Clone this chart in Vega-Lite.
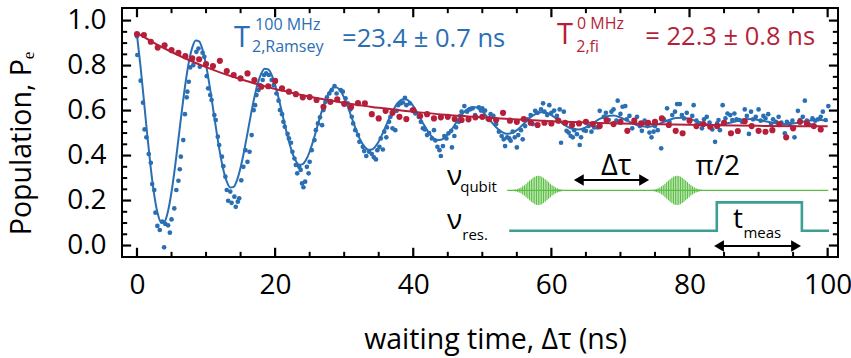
{
"$schema":"https://vega.github.io/schema/vega-lite/v6.json",
"width":716,"height":249,
"autosize":{"type":"none"},
"padding":{"left":122,"top":8,"right":13,"bottom":101},
"background":"white",
"config":{"font":"Open Sans","view":{"stroke":"#000","strokeWidth":2},
"axis":{"grid":false,"domain":false,"labelColor":"#000","titleColor":"#000","titleFontWeight":"normal","labelFont":"Open Sans","titleFont":"Open Sans","labelFlush":false}},
"datasets":{
"one":[{"k":1}],
"xmaj":[{"p":0},{"p":20},{"p":40},{"p":60},{"p":80},{"p":100}],
"xmin":[{"p":5},{"p":10},{"p":15},{"p":25},{"p":30},{"p":35},{"p":45},{"p":50},{"p":55},{"p":65},{"p":70},{"p":75},{"p":85},{"p":90},{"p":95}],
"ymaj":[{"p":0},{"p":0.2},{"p":0.4},{"p":0.6},{"p":0.8},{"p":1.0}],
"ymin":[{"p":0.05},{"p":0.1},{"p":0.15},{"p":0.25},{"p":0.3},{"p":0.35},{"p":0.45},{"p":0.5},{"p":0.55},{"p":0.65},{"p":0.7},{"p":0.75},{"p":0.85},{"p":0.9},{"p":0.95}],
"blue":[{"t":0,"v":0.93},{"t":0.05,"v":0.847},{"t":0.53,"v":0.733},{"t":0.87,"v":0.635},{"t":1.1,"v":0.516},{"t":1.36,"v":0.481},{"t":1.7,"v":0.407},{"t":2.0,"v":0.368},{"t":2.2,"v":0.273},{"t":2.5,"v":0.247},{"t":2.67,"v":0.146},{"t":2.95,"v":0.087},{"t":3.3,"v":0.069},{"t":3.64,"v":0.106},{"t":3.93,"v":-0.008},{"t":4.1,"v":0.096},{"t":4.5,"v":0.09},{"t":4.76,"v":0.057},{"t":5.0,"v":0.116},{"t":5.4,"v":0.165},{"t":5.7,"v":0.247},{"t":6.0,"v":0.288},{"t":6.2,"v":0.339},{"t":6.35,"v":0.395},{"t":6.7,"v":0.469},{"t":6.94,"v":0.584},{"t":7.2,"v":0.659},{"t":7.3,"v":0.684},{"t":7.5,"v":0.728},{"t":7.7,"v":0.792},{"t":8.15,"v":0.802},{"t":8.6,"v":0.861},{"t":8.9,"v":0.876},{"t":9.1,"v":0.795},{"t":9.5,"v":0.857},{"t":9.75,"v":0.839},{"t":10.1,"v":0.753},{"t":10.3,"v":0.699},{"t":10.6,"v":0.669},{"t":10.8,"v":0.647},{"t":11.2,"v":0.58},{"t":11.4,"v":0.558},{"t":11.7,"v":0.484},{"t":11.9,"v":0.447},{"t":12.3,"v":0.395},{"t":12.5,"v":0.353},{"t":12.8,"v":0.306},{"t":13.0,"v":0.247},{"t":13.2,"v":0.199},{"t":13.5,"v":0.24},{"t":13.7,"v":0.19},{"t":14.1,"v":0.217},{"t":14.3,"v":0.172},{"t":14.6,"v":0.195},{"t":14.8,"v":0.21},{"t":15.1,"v":0.29},{"t":15.4,"v":0.35},{"t":15.7,"v":0.424},{"t":16.0,"v":0.372},{"t":16.3,"v":0.417},{"t":16.6,"v":0.491},{"t":16.9,"v":0.602},{"t":17.1,"v":0.624},{"t":17.3,"v":0.669},{"t":17.6,"v":0.691},{"t":17.8,"v":0.713},{"t":18.2,"v":0.736},{"t":18.4,"v":0.758},{"t":18.7,"v":0.765},{"t":19.1,"v":0.758},{"t":19.5,"v":0.736},{"t":19.8,"v":0.713},{"t":20.2,"v":0.676},{"t":20.5,"v":0.644},{"t":20.7,"v":0.602},{"t":21.0,"v":0.584},{"t":21.2,"v":0.55},{"t":21.4,"v":0.528},{"t":21.8,"v":0.496},{"t":22.0,"v":0.476},{"t":22.3,"v":0.457},{"t":22.5,"v":0.417},{"t":22.8,"v":0.387},{"t":23.0,"v":0.358},{"t":23.2,"v":0.321},{"t":23.5,"v":0.35},{"t":23.7,"v":0.336},{"t":23.9,"v":0.276},{"t":24.1,"v":0.259},{"t":24.35,"v":0.284},{"t":24.6,"v":0.35},{"t":24.85,"v":0.321},{"t":25.0,"v":0.372},{"t":25.3,"v":0.424},{"t":25.7,"v":0.469},{"t":25.9,"v":0.513},{"t":26.2,"v":0.543},{"t":26.5,"v":0.57},{"t":26.8,"v":0.535},{"t":27.0,"v":0.602},{"t":27.3,"v":0.639},{"t":27.5,"v":0.659},{"t":27.85,"v":0.676},{"t":28.2,"v":0.691},{"t":28.6,"v":0.709},{"t":28.9,"v":0.676},{"t":29.5,"v":0.691},{"t":29.8,"v":0.684},{"t":30.2,"v":0.654},{"t":30.5,"v":0.632},{"t":30.9,"v":0.605},{"t":31.1,"v":0.572},{"t":31.3,"v":0.543},{"t":31.6,"v":0.513},{"t":32.0,"v":0.491},{"t":32.2,"v":0.461},{"t":32.7,"v":0.439},{"t":32.9,"v":0.42},{"t":33.2,"v":0.398},{"t":33.6,"v":0.417},{"t":34.0,"v":0.407},{"t":34.3,"v":0.392},{"t":34.6,"v":0.383},{"t":34.8,"v":0.424},{"t":35.1,"v":0.439},{"t":35.3,"v":0.476},{"t":35.6,"v":0.427},{"t":35.8,"v":0.506},{"t":36.1,"v":0.481},{"t":36.2,"v":0.525},{"t":36.5,"v":0.55},{"t":36.7,"v":0.572},{"t":37.0,"v":0.521},{"t":37.4,"v":0.513},{"t":37.6,"v":0.599},{"t":37.8,"v":0.624},{"t":38.2,"v":0.632},{"t":38.5,"v":0.636},{"t":38.8,"v":0.657},{"t":39.0,"v":0.624},{"t":39.5,"v":0.632},{"t":39.8,"v":0.602},{"t":40.3,"v":0.587},{"t":40.8,"v":0.572},{"t":41.1,"v":0.55},{"t":41.4,"v":0.521},{"t":41.7,"v":0.516},{"t":42.0,"v":0.491},{"t":42.3,"v":0.5},{"t":42.7,"v":0.476},{"t":43.0,"v":0.513},{"t":43.2,"v":0.467},{"t":43.5,"v":0.439},{"t":43.8,"v":0.424},{"t":44.0,"v":0.398},{"t":44.3,"v":0.442},{"t":44.5,"v":0.487},{"t":44.8,"v":0.476},{"t":45.1,"v":0.499},{"t":45.5,"v":0.51},{"t":45.6,"v":0.436},{"t":45.95,"v":0.487},{"t":46.2,"v":0.525},{"t":46.6,"v":0.55},{"t":46.8,"v":0.576},{"t":47.0,"v":0.595},{"t":47.4,"v":0.62},{"t":47.8,"v":0.595},{"t":48.2,"v":0.605},{"t":48.6,"v":0.61},{"t":48.95,"v":0.58},{"t":49.5,"v":0.614},{"t":49.8,"v":0.6},{"t":50.0,"v":0.61},{"t":50.4,"v":0.6},{"t":50.8,"v":0.561},{"t":51.2,"v":0.584},{"t":51.6,"v":0.576},{"t":52.0,"v":0.54},{"t":52.4,"v":0.506},{"t":52.8,"v":0.487},{"t":53.1,"v":0.472},{"t":53.3,"v":0.442},{"t":53.6,"v":0.481},{"t":53.9,"v":0.476},{"t":54.1,"v":0.466},{"t":54.4,"v":0.506},{"t":54.7,"v":0.481},{"t":55.0,"v":0.436},{"t":55.2,"v":0.491},{"t":55.6,"v":0.513},{"t":55.85,"v":0.472},{"t":56.2,"v":0.531},{"t":56.6,"v":0.561},{"t":57.0,"v":0.58},{"t":57.3,"v":0.54},{"t":57.65,"v":0.599},{"t":58.0,"v":0.59},{"t":58.5,"v":0.605},{"t":58.8,"v":0.632},{"t":59.0,"v":0.595},{"t":59.4,"v":0.58},{"t":59.7,"v":0.624},{"t":60.0,"v":0.59},{"t":60.4,"v":0.6},{"t":60.8,"v":0.576},{"t":61.2,"v":0.605},{"t":61.4,"v":0.457},{"t":61.8,"v":0.595},{"t":62.2,"v":0.51},{"t":62.5,"v":0.502},{"t":62.8,"v":0.487},{"t":63.1,"v":0.481},{"t":63.3,"v":0.513},{"t":63.7,"v":0.495},{"t":64.1,"v":0.447},{"t":64.3,"v":0.481},{"t":64.7,"v":0.513},{"t":65.0,"v":0.51},{"t":65.4,"v":0.531},{"t":65.8,"v":0.506},{"t":66.2,"v":0.525},{"t":66.7,"v":0.525},{"t":67.0,"v":0.599},{"t":67.6,"v":0.572},{"t":67.9,"v":0.59},{"t":68.3,"v":0.558},{"t":68.7,"v":0.595},{"t":69.0,"v":0.605},{"t":69.4,"v":0.555},{"t":69.6,"v":0.644},{"t":70.0,"v":0.585},{"t":70.3,"v":0.617},{"t":70.7,"v":0.62},{"t":70.9,"v":0.561},{"t":71.3,"v":0.576},{"t":71.7,"v":0.521},{"t":72.1,"v":0.546},{"t":72.4,"v":0.572},{"t":72.8,"v":0.531},{"t":73.1,"v":0.51},{"t":73.5,"v":0.555},{"t":73.9,"v":0.531},{"t":74.2,"v":0.502},{"t":74.5,"v":0.481},{"t":74.8,"v":0.506},{"t":75.0,"v":0.531},{"t":75.4,"v":0.513},{"t":75.9,"v":0.432},{"t":76.3,"v":0.561},{"t":76.75,"v":0.61},{"t":77.1,"v":0.55},{"t":77.5,"v":0.58},{"t":77.9,"v":0.595},{"t":78.2,"v":0.629},{"t":78.6,"v":0.629},{"t":78.9,"v":0.58},{"t":79.2,"v":0.565},{"t":79.6,"v":0.59},{"t":80.0,"v":0.558},{"t":80.4,"v":0.576},{"t":80.6,"v":0.624},{"t":81.0,"v":0.555},{"t":81.4,"v":0.543},{"t":81.8,"v":0.521},{"t":82.1,"v":0.561},{"t":82.5,"v":0.572},{"t":82.9,"v":0.546},{"t":83.3,"v":0.516},{"t":83.7,"v":0.461},{"t":84.0,"v":0.543},{"t":84.2,"v":0.558},{"t":84.4,"v":0.513},{"t":84.8,"v":0.624},{"t":85.2,"v":0.565},{"t":85.5,"v":0.587},{"t":85.9,"v":0.58},{"t":86.2,"v":0.558},{"t":86.5,"v":0.587},{"t":86.8,"v":0.561},{"t":87.2,"v":0.558},{"t":87.6,"v":0.55},{"t":88.0,"v":0.605},{"t":88.3,"v":0.576},{"t":88.6,"v":0.496},{"t":88.9,"v":0.595},{"t":89.2,"v":0.561},{"t":89.6,"v":0.572},{"t":90.0,"v":0.605},{"t":90.3,"v":0.555},{"t":90.7,"v":0.576},{"t":91.0,"v":0.565},{"t":91.4,"v":0.584},{"t":91.8,"v":0.54},{"t":92.1,"v":0.561},{"t":92.5,"v":0.55},{"t":92.9,"v":0.572},{"t":93.3,"v":0.546},{"t":93.8,"v":0.499},{"t":94.1,"v":0.55},{"t":94.5,"v":0.54},{"t":94.9,"v":0.555},{"t":95.2,"v":0.481},{"t":95.7,"v":0.599},{"t":96.0,"v":0.558},{"t":96.4,"v":0.572},{"t":96.7,"v":0.644},{"t":97.0,"v":0.555},{"t":97.4,"v":0.536},{"t":97.8,"v":0.565},{"t":98.2,"v":0.555},{"t":98.6,"v":0.561},{"t":99.0,"v":0.572},{"t":99.3,"v":0.595},{"t":99.7,"v":0.558},{"t":100.1,"v":0.62}],
"red":[{"t":0,"v":0.94},{"t":1,"v":0.936},{"t":2,"v":0.906},{"t":3,"v":0.88},{"t":4,"v":0.89},{"t":5,"v":0.869},{"t":6,"v":0.857},{"t":7,"v":0.842},{"t":8,"v":0.832},{"t":9,"v":0.828},{"t":10,"v":0.807},{"t":11,"v":0.798},{"t":12,"v":0.821},{"t":13,"v":0.776},{"t":14,"v":0.758},{"t":15,"v":0.743},{"t":16,"v":0.765},{"t":17,"v":0.736},{"t":18,"v":0.706},{"t":19,"v":0.708},{"t":20,"v":0.732},{"t":21,"v":0.699},{"t":22,"v":0.684},{"t":23,"v":0.673},{"t":24,"v":0.659},{"t":25,"v":0.66},{"t":26,"v":0.647},{"t":27,"v":0.617},{"t":28,"v":0.639},{"t":29,"v":0.65},{"t":30,"v":0.63},{"t":31,"v":0.616},{"t":32,"v":0.633},{"t":33,"v":0.632},{"t":34,"v":0.584},{"t":35,"v":0.565},{"t":36,"v":0.599},{"t":37,"v":0.59},{"t":38,"v":0.572},{"t":39,"v":0.562},{"t":40,"v":0.602},{"t":41,"v":0.576},{"t":42,"v":0.584},{"t":43,"v":0.565},{"t":44,"v":0.57},{"t":45,"v":0.572},{"t":46,"v":0.562},{"t":47,"v":0.558},{"t":48,"v":0.561},{"t":49,"v":0.57},{"t":50,"v":0.572},{"t":51,"v":0.562},{"t":52,"v":0.558},{"t":53,"v":0.59},{"t":54,"v":0.555},{"t":55,"v":0.55},{"t":56,"v":0.562},{"t":57,"v":0.546},{"t":58,"v":0.536},{"t":59,"v":0.546},{"t":60,"v":0.543},{"t":61,"v":0.555},{"t":62,"v":0.546},{"t":63,"v":0.536},{"t":64,"v":0.543},{"t":65,"v":0.55},{"t":66,"v":0.54},{"t":67,"v":0.531},{"t":68,"v":0.558},{"t":69,"v":0.54},{"t":70,"v":0.55},{"t":71,"v":0.51},{"t":72,"v":0.555},{"t":73,"v":0.543},{"t":74,"v":0.546},{"t":75,"v":0.55},{"t":76,"v":0.565},{"t":77,"v":0.536},{"t":78,"v":0.51},{"t":79,"v":0.499},{"t":80,"v":0.555},{"t":81,"v":0.531},{"t":82,"v":0.54},{"t":83,"v":0.528},{"t":84,"v":0.531},{"t":85,"v":0.546},{"t":86,"v":0.499},{"t":87,"v":0.509},{"t":88,"v":0.553},{"t":89,"v":0.531},{"t":90,"v":0.51},{"t":91,"v":0.506},{"t":92,"v":0.513},{"t":93,"v":0.54},{"t":94,"v":0.481},{"t":95,"v":0.521},{"t":96,"v":0.55},{"t":97,"v":0.543},{"t":98,"v":0.531},{"t":99,"v":0.516}],
"bfit":[{"t":0,"v":0.936},{"t":0.5,"v":0.8},{"t":1,"v":0.645},{"t":1.5,"v":0.488},{"t":2,"v":0.343},{"t":2.5,"v":0.224},{"t":3,"v":0.142},{"t":3.5,"v":0.102},{"t":4,"v":0.107},{"t":4.5,"v":0.154},{"t":5,"v":0.238},{"t":5.5,"v":0.348},{"t":6,"v":0.473},{"t":6.5,"v":0.6},{"t":7,"v":0.717},{"t":7.5,"v":0.814},{"t":8,"v":0.88},{"t":8.5,"v":0.912},{"t":9,"v":0.908},{"t":9.5,"v":0.87},{"t":10,"v":0.802},{"t":10.5,"v":0.713},{"t":11,"v":0.612},{"t":11.5,"v":0.51},{"t":12,"v":0.415},{"t":12.5,"v":0.337},{"t":13,"v":0.284},{"t":13.5,"v":0.258},{"t":14,"v":0.261},{"t":14.5,"v":0.292},{"t":15,"v":0.347},{"t":15.5,"v":0.418},{"t":16,"v":0.5},{"t":16.5,"v":0.583},{"t":17,"v":0.659},{"t":17.5,"v":0.722},{"t":18,"v":0.765},{"t":18.5,"v":0.786},{"t":19,"v":0.783},{"t":19.5,"v":0.759},{"t":20,"v":0.714},{"t":20.5,"v":0.656},{"t":21,"v":0.59},{"t":21.5,"v":0.524},{"t":22,"v":0.462},{"t":22.5,"v":0.411},{"t":23,"v":0.376},{"t":23.5,"v":0.359},{"t":24,"v":0.362},{"t":24.5,"v":0.382},{"t":25,"v":0.417},{"t":25.5,"v":0.464},{"t":26,"v":0.517},{"t":26.5,"v":0.571},{"t":27,"v":0.621},{"t":27.5,"v":0.662},{"t":28,"v":0.69},{"t":28.5,"v":0.704},{"t":29,"v":0.702},{"t":29.5,"v":0.686},{"t":30,"v":0.657},{"t":30.5,"v":0.619},{"t":31,"v":0.576},{"t":31.5,"v":0.533},{"t":32,"v":0.492},{"t":32.5,"v":0.46},{"t":33,"v":0.437},{"t":33.5,"v":0.426},{"t":34,"v":0.427},{"t":34.5,"v":0.44},{"t":35,"v":0.463},{"t":35.5,"v":0.494},{"t":36,"v":0.529},{"t":36.5,"v":0.564},{"t":37,"v":0.596},{"t":37.5,"v":0.623},{"t":38,"v":0.641},{"t":38.5,"v":0.65},{"t":39,"v":0.649},{"t":39.5,"v":0.639},{"t":40,"v":0.62},{"t":40.5,"v":0.595},{"t":41,"v":0.567},{"t":41.5,"v":0.539},{"t":42,"v":0.513},{"t":42.5,"v":0.491},{"t":43,"v":0.476},{"t":43.5,"v":0.469},{"t":44,"v":0.47},{"t":44.5,"v":0.478},{"t":45,"v":0.494},{"t":45.5,"v":0.513},{"t":46,"v":0.536},{"t":46.5,"v":0.559},{"t":47,"v":0.58},{"t":47.5,"v":0.598},{"t":48,"v":0.61},{"t":48.5,"v":0.615},{"t":49,"v":0.615},{"t":49.5,"v":0.608},{"t":50,"v":0.596},{"t":50.5,"v":0.58},{"t":51,"v":0.561},{"t":51.5,"v":0.543},{"t":52,"v":0.526},{"t":52.5,"v":0.512},{"t":53,"v":0.502},{"t":53.5,"v":0.497},{"t":54,"v":0.498},{"t":54.5,"v":0.503},{"t":55,"v":0.513},{"t":55.5,"v":0.526},{"t":56,"v":0.541},{"t":56.5,"v":0.556},{"t":57,"v":0.57},{"t":57.5,"v":0.581},{"t":58,"v":0.589},{"t":58.5,"v":0.593},{"t":59,"v":0.592},{"t":59.5,"v":0.588},{"t":60,"v":0.58},{"t":61,"v":0.557},{"t":62,"v":0.534},{"t":63,"v":0.519},{"t":64,"v":0.516},{"t":65,"v":0.526},{"t":66,"v":0.544},{"t":67,"v":0.563},{"t":68,"v":0.575},{"t":69,"v":0.578},{"t":70,"v":0.569},{"t":71,"v":0.555},{"t":72,"v":0.54},{"t":73,"v":0.53},{"t":74,"v":0.528},{"t":75,"v":0.534},{"t":76,"v":0.546},{"t":77,"v":0.558},{"t":78,"v":0.567},{"t":79,"v":0.568},{"t":80,"v":0.563},{"t":81,"v":0.553},{"t":82,"v":0.543},{"t":83,"v":0.537},{"t":84,"v":0.536},{"t":85,"v":0.54},{"t":86,"v":0.547},{"t":87,"v":0.555},{"t":88,"v":0.561},{"t":89,"v":0.562},{"t":90,"v":0.558},{"t":91,"v":0.552},{"t":92,"v":0.546},{"t":93,"v":0.541},{"t":94,"v":0.54},{"t":95,"v":0.543},{"t":96,"v":0.548},{"t":97,"v":0.554},{"t":98,"v":0.557},{"t":99,"v":0.558},{"t":100,"v":0.555}],
"rfit":[{"t":0,"v":0.945},{"t":2,"v":0.909},{"t":4,"v":0.876},{"t":6,"v":0.846},{"t":8,"v":0.818},{"t":10,"v":0.793},{"t":12,"v":0.77},{"t":14,"v":0.749},{"t":16,"v":0.73},{"t":18,"v":0.712},{"t":20,"v":0.696},{"t":22,"v":0.682},{"t":24,"v":0.668},{"t":26,"v":0.656},{"t":28,"v":0.645},{"t":30,"v":0.634},{"t":32,"v":0.625},{"t":34,"v":0.616},{"t":36,"v":0.609},{"t":38,"v":0.601},{"t":40,"v":0.595},{"t":44,"v":0.583},{"t":48,"v":0.574},{"t":52,"v":0.566},{"t":56,"v":0.559},{"t":60,"v":0.553},{"t":70,"v":0.543},{"t":80,"v":0.537},{"t":90,"v":0.532},{"t":100,"v":0.53}],
"pulse":[{"t":54.6,"lo":0.2421,"hi":0.2479},{"t":54.85,"lo":0.2406,"hi":0.2494},{"t":55.1,"lo":0.2384,"hi":0.2516},{"t":55.35,"lo":0.2355,"hi":0.2545},{"t":55.6,"lo":0.232,"hi":0.258},{"t":55.85,"lo":0.227,"hi":0.263},{"t":56.1,"lo":0.222,"hi":0.268},{"t":56.35,"lo":0.215,"hi":0.275},{"t":56.6,"lo":0.208,"hi":0.282},{"t":56.85,"lo":0.201,"hi":0.289},{"t":57.1,"lo":0.195,"hi":0.295},{"t":57.35,"lo":0.189,"hi":0.301},{"t":57.6,"lo":0.184,"hi":0.306},{"t":57.85,"lo":0.181,"hi":0.309},{"t":58.1,"lo":0.18,"hi":0.31},{"t":58.35,"lo":0.181,"hi":0.309},{"t":58.6,"lo":0.184,"hi":0.306},{"t":58.85,"lo":0.189,"hi":0.301},{"t":59.1,"lo":0.195,"hi":0.295},{"t":59.35,"lo":0.201,"hi":0.289},{"t":59.6,"lo":0.208,"hi":0.282},{"t":59.85,"lo":0.215,"hi":0.275},{"t":60.1,"lo":0.222,"hi":0.268},{"t":60.35,"lo":0.227,"hi":0.263},{"t":60.6,"lo":0.232,"hi":0.258},{"t":60.85,"lo":0.2355,"hi":0.2545},{"t":61.1,"lo":0.2384,"hi":0.2516},{"t":61.35,"lo":0.2406,"hi":0.2494},{"t":61.6,"lo":0.2421,"hi":0.2479},
{"t":74.7,"lo":0.2421,"hi":0.2479},{"t":74.95,"lo":0.2406,"hi":0.2494},{"t":75.2,"lo":0.2384,"hi":0.2516},{"t":75.45,"lo":0.2355,"hi":0.2545},{"t":75.7,"lo":0.232,"hi":0.258},{"t":75.95,"lo":0.227,"hi":0.263},{"t":76.2,"lo":0.222,"hi":0.268},{"t":76.45,"lo":0.215,"hi":0.275},{"t":76.7,"lo":0.208,"hi":0.282},{"t":76.95,"lo":0.201,"hi":0.289},{"t":77.2,"lo":0.195,"hi":0.295},{"t":77.45,"lo":0.189,"hi":0.301},{"t":77.7,"lo":0.184,"hi":0.306},{"t":77.95,"lo":0.181,"hi":0.309},{"t":78.2,"lo":0.18,"hi":0.31},{"t":78.45,"lo":0.181,"hi":0.309},{"t":78.7,"lo":0.184,"hi":0.306},{"t":78.95,"lo":0.189,"hi":0.301},{"t":79.2,"lo":0.195,"hi":0.295},{"t":79.45,"lo":0.201,"hi":0.289},{"t":79.7,"lo":0.208,"hi":0.282},{"t":79.95,"lo":0.215,"hi":0.275},{"t":80.2,"lo":0.222,"hi":0.268},{"t":80.45,"lo":0.227,"hi":0.263},{"t":80.7,"lo":0.232,"hi":0.258},{"t":80.95,"lo":0.2355,"hi":0.2545},{"t":81.2,"lo":0.2384,"hi":0.2516},{"t":81.45,"lo":0.2406,"hi":0.2494},{"t":81.7,"lo":0.2421,"hi":0.2479}],
"res":[{"o":1,"t":53.9,"v":0.066},{"o":2,"t":83.95,"v":0.066},{"o":3,"t":83.95,"v":0.192},{"o":4,"t":96.27,"v":0.192},{"o":5,"t":96.27,"v":0.066},{"o":6,"t":100.2,"v":0.066}]
},
"resolve":{"axis":{"x":"independent","y":"independent"}},
"layer":[
{"data":{"name":"blue"},"mark":{"type":"circle","size":22,"color":"#2a6eb4","opacity":1},"encoding":{"x":{"field":"t","type":"quantitative","scale":{"domain":[-2.17,101.5],"nice":false,"zero":false},"axis":{"orient":"bottom","values":[0,20,40,60,80,100],"ticks":false,"domain":false,"labelFontSize":28,"labelPadding":36,"labelBaseline":"alphabetic","title":"waiting time, Δτ (ns)","titleFontSize":28.5,"titleX":373,"titleY":91,"titleBaseline":"alphabetic","titleAlign":"center"}},"y":{"field":"v","type":"quantitative","scale":{"domain":[-0.051,1.056],"nice":false,"zero":false},"axis":{"orient":"left","values":[0,0.2,0.4,0.6,0.8,1.0],"format":".1f","ticks":false,"domain":false,"labelFontSize":28,"labelPadding":16,"title":"Population, Pₑ","titleFontSize":28.5,"titleX":-100.6,"titleY":135,"titleAngle":-90,"titleBaseline":"middle","titleAlign":"center"}}}},
{"data":{"name":"one"},"mark":{"type":"rule","color":"#5cbf45","strokeWidth":1.3},"encoding":{"x":{"datum":53.6,"type":"quantitative","axis":null},"x2":{"datum":100.1},"y":{"datum":0.245,"type":"quantitative","axis":null}}},
{"data":{"name":"pulse"},"mark":{"type":"rule","color":"#5cbf45","strokeWidth":1.2},"encoding":{"x":{"field":"t","type":"quantitative","axis":null},"y":{"field":"lo","type":"quantitative","axis":null},"y2":{"field":"hi"}}},
{"data":{"name":"res"},"mark":{"type":"line","color":"#3d9e94","strokeWidth":2.6},"encoding":{"order":{"field":"o","type":"quantitative"},"x":{"field":"t","type":"quantitative","axis":null},"y":{"field":"v","type":"quantitative","axis":null}}},
{"data":{"name":"bfit"},"mark":{"type":"line","color":"#2a6eb4","strokeWidth":2,"interpolate":"monotone"},"encoding":{"x":{"field":"t","type":"quantitative","axis":null},"y":{"field":"v","type":"quantitative","axis":null}}},
{"data":{"name":"rfit"},"mark":{"type":"line","color":"#b51f3a","strokeWidth":2,"interpolate":"monotone"},"encoding":{"x":{"field":"t","type":"quantitative","axis":null},"y":{"field":"v","type":"quantitative","axis":null}}},
{"data":{"name":"red"},"mark":{"type":"circle","size":38,"color":"#b51f3a","opacity":1},"encoding":{"x":{"field":"t","type":"quantitative","axis":null},"y":{"field":"v","type":"quantitative","axis":null}}},
{"data":{"name":"xmaj"},"mark":{"type":"rule","color":"#000","strokeWidth":2.2},"encoding":{"x":{"field":"p","type":"quantitative","axis":null},"y":{"datum":-0.047,"type":"quantitative","axis":null},"y2":{"datum":-0.01}}},
{"data":{"name":"xmin"},"mark":{"type":"rule","color":"#000","strokeWidth":2},"encoding":{"x":{"field":"p","type":"quantitative","axis":null},"y":{"datum":-0.047,"type":"quantitative","axis":null},"y2":{"datum":-0.028}}},
{"data":{"name":"xmaj"},"mark":{"type":"rule","color":"#000","strokeWidth":2.2},"encoding":{"x":{"field":"p","type":"quantitative","axis":null},"y":{"datum":1.052,"type":"quantitative","axis":null},"y2":{"datum":1.015}}},
{"data":{"name":"xmin"},"mark":{"type":"rule","color":"#000","strokeWidth":2},"encoding":{"x":{"field":"p","type":"quantitative","axis":null},"y":{"datum":1.052,"type":"quantitative","axis":null},"y2":{"datum":1.033}}},
{"data":{"name":"ymaj"},"mark":{"type":"rule","color":"#000","strokeWidth":2.2},"encoding":{"y":{"field":"p","type":"quantitative","axis":null},"x":{"datum":-2.05,"type":"quantitative","axis":null},"x2":{"datum":-0.85}}},
{"data":{"name":"ymin"},"mark":{"type":"rule","color":"#000","strokeWidth":2},"encoding":{"y":{"field":"p","type":"quantitative","axis":null},"x":{"datum":-2.05,"type":"quantitative","axis":null},"x2":{"datum":-1.42}}},
{"data":{"name":"ymaj"},"mark":{"type":"rule","color":"#000","strokeWidth":2.2},"encoding":{"y":{"field":"p","type":"quantitative","axis":null},"x":{"datum":101.38,"type":"quantitative","axis":null},"x2":{"datum":100.18}}},
{"data":{"name":"ymin"},"mark":{"type":"rule","color":"#000","strokeWidth":2},"encoding":{"y":{"field":"p","type":"quantitative","axis":null},"x":{"datum":101.38,"type":"quantitative","axis":null},"x2":{"datum":100.75}}},
{"data":{"name":"one"},"mark":{"type":"rule","color":"#000","strokeWidth":2},"encoding":{"x":{"datum":63.97,"type":"quantitative","axis":null},"x2":{"datum":73.43},"y":{"datum":0.291,"type":"quantitative","axis":null}}},
{"data":{"name":"one"},"mark":{"type":"rule","color":"#000","strokeWidth":2},"encoding":{"x":{"datum":84.27,"type":"quantitative","axis":null},"x2":{"datum":95.43},"y":{"datum":-0.002,"type":"quantitative","axis":null}}},
{"data":{"name":"one"},"mark":{"type":"point","shape":"triangle-left","filled":true,"color":"#000","size":130,"opacity":1},"encoding":{"x":{"datum":63.97,"type":"quantitative","axis":null},"y":{"datum":0.291,"type":"quantitative","axis":null}}},
{"data":{"name":"one"},"mark":{"type":"point","shape":"triangle-right","filled":true,"color":"#000","size":130,"opacity":1},"encoding":{"x":{"datum":73.43,"type":"quantitative","axis":null},"y":{"datum":0.291,"type":"quantitative","axis":null}}},
{"data":{"name":"one"},"mark":{"type":"point","shape":"triangle-left","filled":true,"color":"#000","size":130,"opacity":1},"encoding":{"x":{"datum":84.27,"type":"quantitative","axis":null},"y":{"datum":-0.002,"type":"quantitative","axis":null}}},
{"data":{"name":"one"},"mark":{"type":"point","shape":"triangle-right","filled":true,"color":"#000","size":130,"opacity":1},"encoding":{"x":{"datum":95.43,"type":"quantitative","axis":null},"y":{"datum":-0.002,"type":"quantitative","axis":null}}},
{"data":{"name":"one"},"mark":{"type":"text","text":"T","fontSize":29,"color":"#2a6eb4","align":"left","baseline":"alphabetic"},"encoding":{"x":{"datum":14.05,"type":"quantitative","axis":null},"y":{"datum":0.882,"type":"quantitative","axis":null}}},
{"data":{"name":"one"},"mark":{"type":"text","text":"100 MHz","fontSize":16,"color":"#2a6eb4","align":"left","baseline":"alphabetic"},"encoding":{"x":{"datum":17.1,"type":"quantitative","axis":null},"y":{"datum":0.958,"type":"quantitative","axis":null}}},
{"data":{"name":"one"},"mark":{"type":"text","text":"2,Ramsey","fontSize":16,"color":"#2a6eb4","align":"left","baseline":"alphabetic"},"encoding":{"x":{"datum":16.65,"type":"quantitative","axis":null},"y":{"datum":0.86,"type":"quantitative","axis":null}}},
{"data":{"name":"one"},"mark":{"type":"text","text":"=23.4 ± 0.7 ns","fontSize":25.5,"color":"#2a6eb4","align":"left","baseline":"alphabetic"},"encoding":{"x":{"datum":29.7,"type":"quantitative","axis":null},"y":{"datum":0.882,"type":"quantitative","axis":null}}},
{"data":{"name":"one"},"mark":{"type":"text","text":"T","fontSize":29,"color":"#b51f3a","align":"left","baseline":"alphabetic"},"encoding":{"x":{"datum":60.8,"type":"quantitative","axis":null},"y":{"datum":0.896,"type":"quantitative","axis":null}}},
{"data":{"name":"one"},"mark":{"type":"text","text":"0 MHz","fontSize":16,"color":"#b51f3a","align":"left","baseline":"alphabetic"},"encoding":{"x":{"datum":63.7,"type":"quantitative","axis":null},"y":{"datum":0.962,"type":"quantitative","axis":null}}},
{"data":{"name":"one"},"mark":{"type":"text","text":"2,fi","fontSize":16,"color":"#b51f3a","align":"left","baseline":"alphabetic"},"encoding":{"x":{"datum":63.6,"type":"quantitative","axis":null},"y":{"datum":0.86,"type":"quantitative","axis":null}}},
{"data":{"name":"one"},"mark":{"type":"text","text":"= 22.3 ± 0.8 ns","fontSize":25.5,"color":"#b51f3a","align":"left","baseline":"alphabetic"},"encoding":{"x":{"datum":73.6,"type":"quantitative","axis":null},"y":{"datum":0.891,"type":"quantitative","axis":null}}},
{"data":{"name":"one"},"mark":{"type":"text","text":"ν","fontSize":28,"color":"#000","align":"left","baseline":"alphabetic"},"encoding":{"x":{"datum":44.9,"type":"quantitative","axis":null},"y":{"datum":0.269,"type":"quantitative","axis":null}}},
{"data":{"name":"one"},"mark":{"type":"text","text":"qubit","fontSize":15,"color":"#000","align":"left","baseline":"alphabetic"},"encoding":{"x":{"datum":46.8,"type":"quantitative","axis":null},"y":{"datum":0.238,"type":"quantitative","axis":null}}},
{"data":{"name":"one"},"mark":{"type":"text","text":"ν","fontSize":28,"color":"#000","align":"left","baseline":"alphabetic"},"encoding":{"x":{"datum":44.9,"type":"quantitative","axis":null},"y":{"datum":0.073,"type":"quantitative","axis":null}}},
{"data":{"name":"one"},"mark":{"type":"text","text":"res.","fontSize":15,"color":"#000","align":"left","baseline":"alphabetic"},"encoding":{"x":{"datum":47.1,"type":"quantitative","axis":null},"y":{"datum":0.024,"type":"quantitative","axis":null}}},
{"data":{"name":"one"},"mark":{"type":"text","text":"Δτ","fontSize":29,"color":"#000","align":"center","baseline":"alphabetic"},"encoding":{"x":{"datum":69.4,"type":"quantitative","axis":null},"y":{"datum":0.313,"type":"quantitative","axis":null}}},
{"data":{"name":"one"},"mark":{"type":"text","text":"π/2","fontSize":28,"color":"#000","align":"center","baseline":"alphabetic"},"encoding":{"x":{"datum":84.1,"type":"quantitative","axis":null},"y":{"datum":0.313,"type":"quantitative","axis":null}}},
{"data":{"name":"one"},"mark":{"type":"text","text":"t","fontSize":28,"color":"#000","align":"left","baseline":"alphabetic"},"encoding":{"x":{"datum":86.3,"type":"quantitative","axis":null},"y":{"datum":0.078,"type":"quantitative","axis":null}}},
{"data":{"name":"one"},"mark":{"type":"text","text":"meas","fontSize":15,"color":"#000","align":"left","baseline":"alphabetic"},"encoding":{"x":{"datum":87.8,"type":"quantitative","axis":null},"y":{"datum":0.033,"type":"quantitative","axis":null}}}
]
}
